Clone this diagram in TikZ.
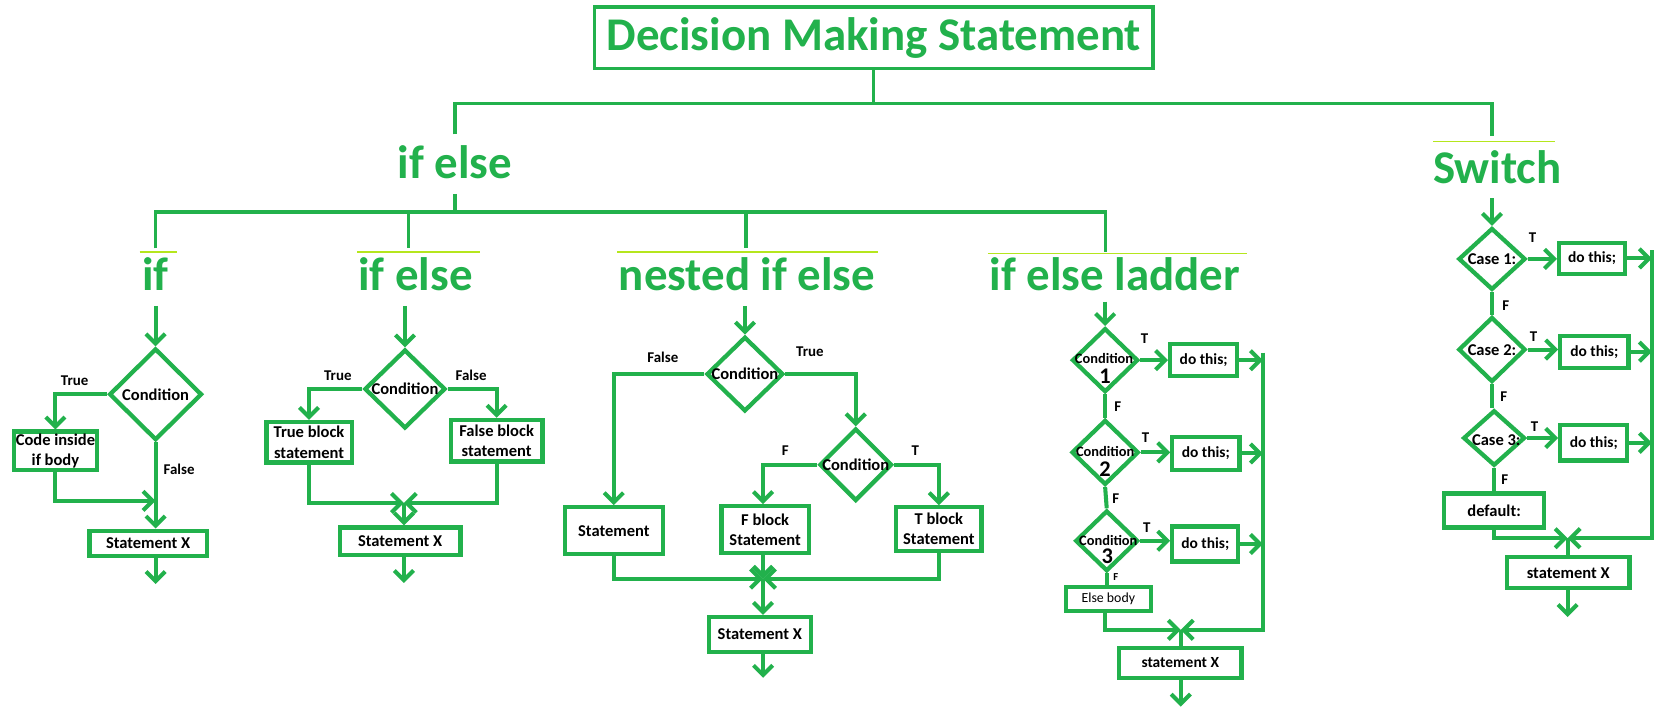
\documentclass[tikz,border=0pt]{standalone}
\usepackage{fontspec}
\setmainfont{Carlito}
\usetikzlibrary{arrows.meta,shapes.geometric}
\definecolor{pg}{RGB}{34,177,76}
\definecolor{lime}{RGB}{181,230,29}
\begin{document}
\begin{tikzpicture}[x=1pt,y=-1pt,
  conn/.style={draw=pg, line width=3.8pt},
  arr/.style={conn, -{Straight Barb[length=9pt,width=18pt]}},
  tree/.style={draw=pg, line width=3pt},
  thinline/.style={draw=lime, line width=1.3pt},
  box/.style={draw=pg, line width=4pt, rectangle, inner sep=0pt, align=center, font=\bfseries\fontsize{15.5}{19}\selectfont},
  dia/.style={draw=pg, line width=4pt, diamond, inner sep=0pt},
  ctext/.style={font=\bfseries\fontsize{15.5}{18}\selectfont, inner sep=0pt, align=center},
  lab/.style={font=\bfseries\fontsize{14}{16}\selectfont, inner sep=0pt},
  head/.style={text=pg, font=\bfseries\fontsize{44}{50}\selectfont, inner sep=0pt},
]
\useasboundingbox[fill=white] (0,0) rectangle (1568,677);

% ---------- title and tree ----------
\node[draw=pg, line width=3pt, minimum width=524pt, minimum height=58pt, head] (title) at (820,35.5) {Decision Making Statement};
\node[head] (ifelse) at (427,152) {if else};
\node[head] (switch) at (1405,157) {Switch};
\node[head] (hif) at (146,257) {if};
\node[head] (hifelse) at (390,257) {if else};
\node[head] (hnested) at (701,257) {nested if else};
\node[head] (hladder) at (1046,257) {if else ladder};

\coordinate (tL) at (427,97);
\coordinate (tR) at (1400,97);
\coordinate (tLb) at (427,126);
\coordinate (tRb) at (1400,128);
\draw[tree] (title.south) -- (title.south |- tL);
\draw[tree] (tLb) -- (tL) -- (tR) -- (tRb);

\coordinate (u0) at (427,182);
\coordinate (u1) at (427,199);
\coordinate (ha) at (146,199);
\coordinate (hb) at (383,199);
\coordinate (hc) at (700,199);
\coordinate (hd) at (1037,199);
\coordinate (ha2) at (146,233);
\coordinate (hb2) at (383,233);
\coordinate (hc2) at (700,233);
\coordinate (hd2) at (1037,236);
\draw[tree] (u0) -- (u1);
\draw[tree] (ha2) -- (ha) -- (hd) -- (hd2);
\draw[tree] (hb) -- (hb2);
\draw[tree] (hc) -- (hc2);

\coordinate (la1) at (131,236.5); \coordinate (la2) at (166,236.5);
\coordinate (lb1) at (335,236.5); \coordinate (lb2) at (450,236.5);
\coordinate (lc1) at (579,236.5); \coordinate (lc2) at (824,236.5);
\coordinate (ld1) at (927,238); \coordinate (ld2) at (1170,238);
\coordinate (le1) at (1345,133); \coordinate (le2) at (1459,133);
\draw[thinline] (la1) -- (la2);
\draw[thinline] (lb1) -- (lb2);
\draw[thinline] (lc1) -- (lc2);
\draw[thinline] (ld1) -- (ld2);
\draw[thinline] (le1) -- (le2);

% ---------- section 1: if ----------
\coordinate (s1) at (146,287);
\node[dia, minimum width=87pt, minimum height=86pt] (d1) at (146,370) {};
\node[ctext] (d1t) at (d1) {Condition};
\node[box, minimum width=78pt, minimum height=36pt] (b1) at (52,423) {Code inside\\if body};
\node[box, minimum width=110pt, minimum height=24pt] (sx1) at (139,510) {Statement X};
\coordinate (j1) at (146,470);
\coordinate (e1) at (146,548);
\node[lab] (l1t) at (70,357) {True};
\node[lab] (l1f) at (168,440) {False};
\draw[arr] (s1) -- (d1.north);
\draw[arr] (d1.west) -| (b1.north);
\draw[arr] (b1.south) |- (j1);
\draw[arr] (d1.south) -- (d1.south |- sx1.north);
\draw[arr] (sx1.south -| e1) -- (e1);

% ---------- section 2: if else ----------
\coordinate (s2) at (380,287);
\node[dia, minimum width=76pt, minimum height=74pt] (d2) at (380,365) {};
\node[ctext] (d2t) at (d2) {Condition};
\node[box, minimum width=80pt, minimum height=38pt] (b2t) at (290,415) {True block\\statement};
\node[box, minimum width=86pt, minimum height=39pt] (b2f) at (466,413.5) {False block\\statement};
\coordinate (j2) at (379,472);
\node[box, minimum width=113pt, minimum height=26pt] (sx2) at (375.5,508) {Statement X};
\coordinate (e2) at (379,547);
\node[lab] (l2t) at (317,353) {True};
\node[lab] (l2f) at (442,352) {False};
\draw[arr] (s2) -- (d2.north);
\draw[arr] (d2.west) -| (b2t.north);
\draw[arr] (d2.east) -| (b2f.north);
\draw[arr] (b2t.south) |- (j2);
\draw[arr] (b2f.south) |- (j2);
\draw[arr] (j2) -- (j2 |- sx2.north);
\draw[arr] (sx2.south -| e2) -- (e2);

% ---------- section 3: nested if else ----------
\coordinate (s3) at (699,287);
\node[dia, minimum width=72pt, minimum height=70pt] (d3a) at (699,351) {};
\node[ctext] (d3at) at (d3a) {Condition};
\node[box, minimum width=92pt, minimum height=44pt] (bs) at (576,498) {Statement};
\node[dia, minimum width=68pt, minimum height=68pt] (d3b) at (803,436) {};
\node[ctext] (d3bt) at (d3b) {Condition};
\node[box, minimum width=82pt, minimum height=44pt] (bF) at (718,497) {F block\\Statement};
\node[box, minimum width=80pt, minimum height=41pt] (bT) at (881,496.5) {T block\\Statement};
\coordinate (j3) at (716,543);
\node[box, minimum width=96pt, minimum height=33pt] (sx3) at (713,595.5) {Statement X};
\coordinate (e3) at (716,636);
\node[lab] (l3f) at (622,335) {False};
\node[lab] (l3t) at (760,330) {True};
\node[lab] (l3F) at (737,423) {F};
\node[lab] (l3T) at (859,423) {T};
\draw[arr] (s3) -- (d3a.north);
\draw[arr] (d3a.west) -| (bs.north);
\draw[arr] (d3a.east) -| (d3b.north);
\draw[arr] (d3b.west) -| (bF.north -| j3);
\draw[arr] (d3b.east) -| (bT.north);
\draw[arr] (bs.south) |- (j3);
\draw[arr] (bT.south) |- (j3);
\draw[arr] (bF.south -| j3) -- (j3);
\draw[arr] (j3) -- (j3 |- sx3.north);
\draw[arr] (sx3.south -| e3) -- (e3);

% ---------- section 4: if else ladder ----------
\coordinate (s4) at (1037,283);
\node[dia, minimum width=62pt, minimum height=60pt] (L1) at (1037,338) {};
\node[dia, minimum width=63pt, minimum height=61pt] (L2) at (1037,424.5) {};
\node[dia, minimum width=59pt, minimum height=57pt] (L3) at (1038.5,507.5) {};
\node[ctext, font=\bfseries\fontsize{13.5}{15}\selectfont] (L1t) at (1036,336) {Condition};
\node[ctext, font=\bfseries\fontsize{21}{22}\selectfont] (L1n) at (1037,353) {1};
\node[ctext, font=\bfseries\fontsize{13.5}{15}\selectfont] (L2t) at (1037,424) {Condition};
\node[ctext, font=\bfseries\fontsize{21}{22}\selectfont] (L2n) at (1037,440) {2};
\node[ctext, font=\bfseries\fontsize{13.5}{15}\selectfont] (L3t) at (1040,507) {Condition};
\node[ctext, font=\bfseries\fontsize{21}{22}\selectfont] (L3n) at (1039,522) {3};
\node[box, minimum width=63pt, minimum height=30pt, font=\bfseries\fontsize{14.5}{17}\selectfont] (do1) at (1129.5,338) {do this;};
\node[box, minimum width=63pt, minimum height=31pt, font=\bfseries\fontsize{14.5}{17}\selectfont] (do2) at (1131.5,425.5) {do this;};
\node[box, minimum width=62pt, minimum height=33pt, font=\bfseries\fontsize{14.5}{17}\selectfont] (do3) at (1131,510.5) {do this;};
\node[box, minimum width=80pt, minimum height=22pt, font=\fontsize{13}{15}\selectfont] (eb) at (1040,562) {Else body};
\coordinate (v4t) at (1185,331);
\coordinate (v4b) at (1185,591);
\coordinate (j4) at (1108,591);
\node[box, minimum width=115pt, minimum height=28pt, font=\bfseries\fontsize{14.5}{17}\selectfont] (sx4) at (1107.5,622) {statement X};
\coordinate (e4) at (1108,663);
\node[lab] (l4t1) at (1074,318) {T};
\node[lab] (l4t2) at (1075,411) {T};
\node[lab] (l4t3) at (1076,495) {T};
\node[lab] (l4f1) at (1049,382) {F};
\node[lab] (l4f2) at (1047,468) {F};
\node[lab, font=\bfseries\fontsize{10}{12}\selectfont] (l4f3) at (1047,541) {F};
\draw[arr] (s4) -- (L1.north);
\draw[arr] (L1.east) -- (do1.west |- L1.east);
\draw[arr] (L2.east) -- (do2.west |- L2.east);
\draw[arr] (L3.east) -- (do3.west |- L3.east);
\draw[arr] (do1.east) -- (do1.east -| v4t);
\draw[arr] (do2.east) -- (do2.east -| v4t);
\draw[arr] (do3.east) -- (do3.east -| v4t);
\draw[conn] (L1.south) -- (L2.north);
\draw[conn] (L2.south) -- (L3.north);
\draw[conn] (L3.south) -- (L3.south |- eb.north);
\draw[arr] (eb.south -| L1) |- (j4);
\draw[arr] (v4t) -- (v4b) -- (j4);
\draw[conn] (j4) -- (j4 |- sx4.north);
\draw[arr] (sx4.south -| e4) -- (e4);

% ---------- section 5: switch ----------
\coordinate (s5) at (1400,186);
\node[dia, minimum width=63pt, minimum height=58pt] (S1) at (1400,243) {};
\node[dia, minimum width=63pt, minimum height=61pt] (S2) at (1400,328) {};
\node[dia, minimum width=58pt, minimum height=52pt] (S3) at (1402,411) {};
\node[ctext] (S1t) at (1400,243) {Case 1:};
\node[ctext] (S2t) at (1400,329) {Case 2:};
\node[ctext] (S3t) at (1404,413) {Case 3:};
\node[box, minimum width=62pt, minimum height=29pt, font=\bfseries\fontsize{14.5}{17}\selectfont] (sd1) at (1494,242.5) {do this;};
\node[box, minimum width=64pt, minimum height=30pt, font=\bfseries\fontsize{14.5}{17}\selectfont] (sd2) at (1496,330) {do this;};
\node[box, minimum width=63pt, minimum height=33pt, font=\bfseries\fontsize{14.5}{17}\selectfont] (sd3) at (1495.5,415.5) {do this;};
\node[box, minimum width=94pt, minimum height=32pt] (df) at (1402,479) {default:};
\coordinate (v5t) at (1550,235);
\coordinate (v5b) at (1550,505);
\coordinate (j5) at (1471,505);
\node[box, minimum width=115pt, minimum height=29pt] (sx5) at (1471.5,537.5) {statement X};
\coordinate (e5) at (1471,579);
\node[lab] (l5t1) at (1438,223) {T};
\node[lab] (l5t2) at (1439,316) {T};
\node[lab] (l5t3) at (1440,400) {T};
\node[lab] (l5f1) at (1413,287) {F};
\node[lab] (l5f2) at (1411,372) {F};
\node[lab] (l5f3) at (1412,450) {F};
\draw[arr] (s5) -- (S1.north);
\draw[arr] (S1.east) -- (sd1.west |- S1.east);
\draw[arr] (S2.east) -- (sd2.west |- S2.east);
\draw[arr] (S3.east) -- (sd3.west |- S3.east);
\draw[arr] (sd1.east) -- (sd1.east -| v5t);
\draw[arr] (sd2.east) -- (sd2.east -| v5t);
\draw[arr] (sd3.east) -- (sd3.east -| v5t);
\draw[conn] (S1.south) -- (S2.north);
\draw[conn] (S2.south) -- (S2.south |- S3.north);
\draw[conn] (S3.south) -- (S3.south |- df.north);
\draw[arr] (df.south) |- (j5);
\draw[arr] (v5t) -- (v5b) -- (j5);
\draw[conn] (j5) -- (j5 |- sx5.north);
\draw[arr] (sx5.south -| e5) -- (e5);
\end{tikzpicture}
\end{document}
